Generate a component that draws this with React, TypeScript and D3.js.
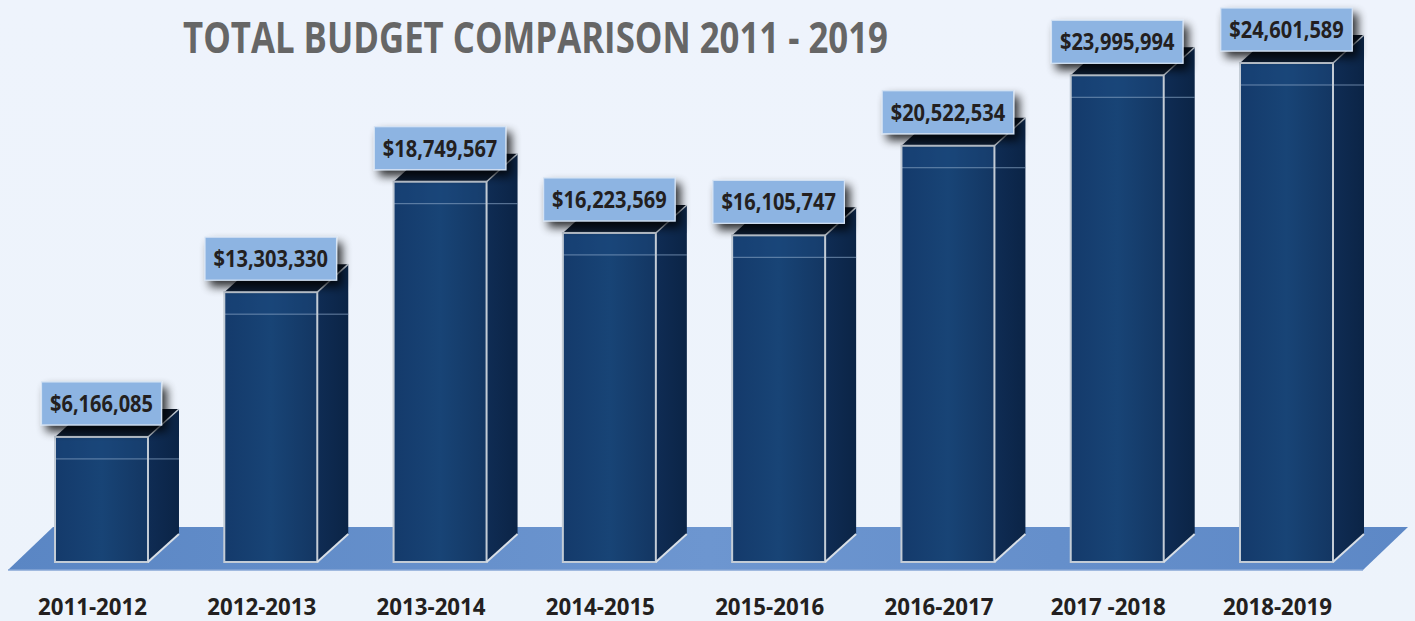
import React from "react";
import * as d3 from "d3";

const categories = ["2011-2012", "2012-2013", "2013-2014", "2014-2015", "2015-2016", "2016-2017", "2017 -2018", "2018-2019"];
const values = [6166085, 13303330, 18749567, 16223569, 16105747, 20522534, 23995994, 24601589];
const title = "TOTAL BUDGET COMPARISON 2011 - 2019";

const W = 1415;
const H = 621;
const DX = 31;
const DY = 28;

function textLen(s: string, digit: number, comma: number, hyphen: number, space: number) {
  let w = 0;
  for (const c of s) {
    if (c === ",") w += comma;
    else if (c === "-") w += hyphen;
    else if (c === " ") w += space;
    else w += digit;
  }
  return w;
}

export default function App() {
  const x = d3.scaleBand<string>().domain(categories).range([55, 1333]).paddingInner(0.4507).paddingOuter(0);
  const y = d3.scaleLinear().domain([0, 24601589]).range([562, 63]);
  const fmt = d3.format("$,");
  const bw = x.bandwidth();
  const base = y(0);
  const font = "'Open Sans', 'DejaVu Sans', sans-serif";

  return (
    <svg width={W} height={H} style={{ position: "absolute", left: 0, top: 0, display: "block" }}>
      <defs>
        <linearGradient id="bg" x1="0" y1="0" x2="0" y2="1">
          <stop offset="0" stopColor="#eef3fc" />
          <stop offset="1" stopColor="#edf3fb" />
        </linearGradient>
        <linearGradient id="floor" x1="0" y1="0" x2="1" y2="0">
          <stop offset="0" stopColor="#5a86c4" />
          <stop offset="0.5" stopColor="#6d96d0" />
          <stop offset="1" stopColor="#5d88c6" />
        </linearGradient>
        <linearGradient id="front" x1="0" y1="0" x2="1" y2="0">
          <stop offset="0" stopColor="#143a6b" />
          <stop offset="0.5" stopColor="#184476" />
          <stop offset="1" stopColor="#133662" />
        </linearGradient>
        <linearGradient id="side" x1="0" y1="0" x2="1" y2="0">
          <stop offset="0" stopColor="#0f2c54" />
          <stop offset="1" stopColor="#0b2446" />
        </linearGradient>
        <linearGradient id="topf" x1="0" y1="1" x2="0" y2="0">
          <stop offset="0" stopColor="#0d1d33" />
          <stop offset="1" stopColor="#0a1424" />
        </linearGradient>
        <filter id="shadow" x="-30%" y="-50%" width="160%" height="220%">
          <feGaussianBlur in="SourceAlpha" stdDeviation="5" />
          <feOffset dx="5" dy="6" result="b" />
          <feComponentTransfer>
            <feFuncA type="linear" slope="0.8" />
          </feComponentTransfer>
          <feMerge>
            <feMergeNode />
            <feMergeNode in="SourceGraphic" />
          </feMerge>
        </filter>
      </defs>
      <rect x={0} y={0} width={W} height={H} fill="url(#bg)" />

      {/* floor */}
      <polygon points="53,527 1408,527 1363,570 8,570" fill="url(#floor)" />
      <line x1={8} y1={570} x2={1363} y2={570} stroke="#86a6d6" strokeWidth={1.5} />

      {/* title */}
      <text x={183} y={53} fontFamily={font} fontWeight={700} fontSize={43} fill="#666666"
        textLength={705} lengthAdjust="spacingAndGlyphs">{title}</text>

      {categories.map((c, i) => {
        const x0 = x(c)!;
        const x1 = x0 + bw;
        const top = y(values[i]);
        const hl = top + 22;
        const label = fmt(values[i]);
        const tl = textLen(label, 11.5, 5.5, 8, 6);
        const cx = x0 + bw / 2;
        const boxW = tl + 17;
        const boxTop = top - 55;
        const boxH = 43;
        const catLen = textLen(c, 12.5, 6, 9, 6);
        return (
          <g key={c}>
            {/* side face */}
            <polygon points={`${x1},${top} ${x1 + DX},${top - DY} ${x1 + DX},${base - DY} ${x1},${base}`} fill="url(#side)" />
            {/* top face */}
            <polygon points={`${x0},${top} ${x1},${top} ${x1 + DX},${top - DY} ${x0 + DX},${top - DY}`} fill="url(#topf)" />
            {/* front face */}
            <rect x={x0} y={top} width={bw} height={base - top} fill="url(#front)" />
            <rect x={x0} y={top} width={bw} height={22} fill="#1d4b82" opacity={0.35} />
            {/* highlight line */}
            <line x1={x0} y1={hl} x2={x1 + DX} y2={hl} stroke="#8fa9c9" strokeOpacity={0.7} strokeWidth={1} />
            {/* edges */}
            <rect x={x0} y={top} width={bw} height={base - top} fill="none" stroke="#c3ccd6" strokeWidth={2} />
            <line x1={x1} y1={top} x2={x1 + DX} y2={top - DY} stroke="#c3ccd6" strokeWidth={1.5} />
            <line x1={x1} y1={base} x2={x1 + DX} y2={base - DY} stroke="#d7dee6" strokeWidth={2} />
            {/* value label */}
            <rect x={cx - boxW / 2} y={boxTop} width={boxW} height={boxH} fill="#8db4e2" stroke="#d5e3f4" strokeWidth={1.2} filter="url(#shadow)" />
            <text x={cx} y={top - 25} textAnchor="middle" fontFamily={font} fontWeight={700} fontSize={22.5}
              fill="#231f20" textLength={tl} lengthAdjust="spacingAndGlyphs">{label}</text>
            {/* category label */}
            <text x={cx - 9} y={615} textAnchor="middle" fontFamily={font} fontWeight={700} fontSize={24}
              fill="#231f20" textLength={catLen} lengthAdjust="spacingAndGlyphs">{c}</text>
          </g>
        );
      })}
    </svg>
  );
}
